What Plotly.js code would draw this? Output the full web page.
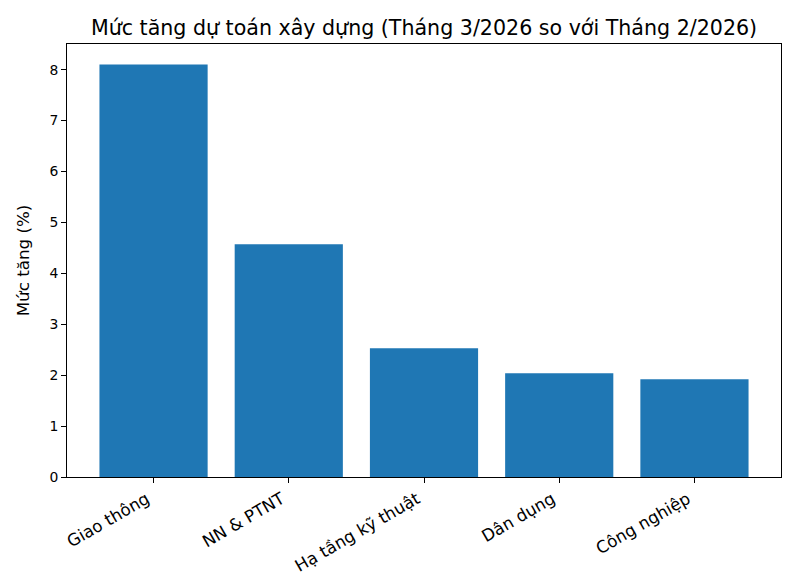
<!DOCTYPE html>
<html>
<head>
<meta charset="utf-8">
<script src="https://cdn.plot.ly/plotly-3.0.1.min.js"></script>
<style>html,body{margin:0;padding:0;background:#fff;}#chart{width:800px;height:585px;}</style>
</head>
<body>
<div id="chart"></div>
<script>
const categories = ["Giao thông", "NN & PTNT", "Hạ tầng kỹ thuật", "Dân dụng", "Công nghiệp"];
const values = [8.10, 4.57, 2.53, 2.04, 1.92];
const yTicks = [0, 1, 2, 3, 4, 5, 6, 7, 8];

const font = "DejaVu Sans, sans-serif";
const trace = {
  type: "bar",
  x: categories.map((c, i) => i),
  y: values,
  marker: {color: "#1f77b4"},
  width: 0.8,
  hoverinfo: "skip"
};
const layout = {
  width: 800, height: 585,
  margin: {l: 67, r: 19, t: 44, b: 108},
  paper_bgcolor: "#fff", plot_bgcolor: "#fff",
  font: {family: font, size: 13.9, color: "#000"},
  title: {text: "Mức tăng dự toán xây dựng (Tháng 3/2026 so với Tháng 2/2026)", font: {family: font, size: 20.6, color: "#000"}, x: 0.5, xref: "paper", xanchor: "center", y: 0.953, yanchor: "middle"},
  xaxis: {
    range: [-0.64, 4.64], tickmode: "array", tickvals: categories.map((c, i) => i), ticktext: categories,
    tickangle: -30, ticks: "outside", ticklen: 5, tickcolor: "#000", showline: true, linecolor: "#000", linewidth: 1,
    mirror: true, showgrid: false, zeroline: false, tickfont: {size: 16.7}, ticklabelshift: -7
  },
  yaxis: {
    range: [0, 8.505], tickmode: "array", tickvals: yTicks, ticks: "outside", ticklen: 5, tickcolor: "#000",
    showline: true, linecolor: "#000", linewidth: 1, mirror: true, showgrid: false, zeroline: false,
    title: {text: "Mức tăng (%)", font: {size: 16.7}, standoff: 15}, tickfont: {size: 13.9}
  },
  showlegend: false
};
Plotly.newPlot("chart", [trace], layout, {staticPlot: true, displayModeBar: false});
</script>
</body>
</html>
